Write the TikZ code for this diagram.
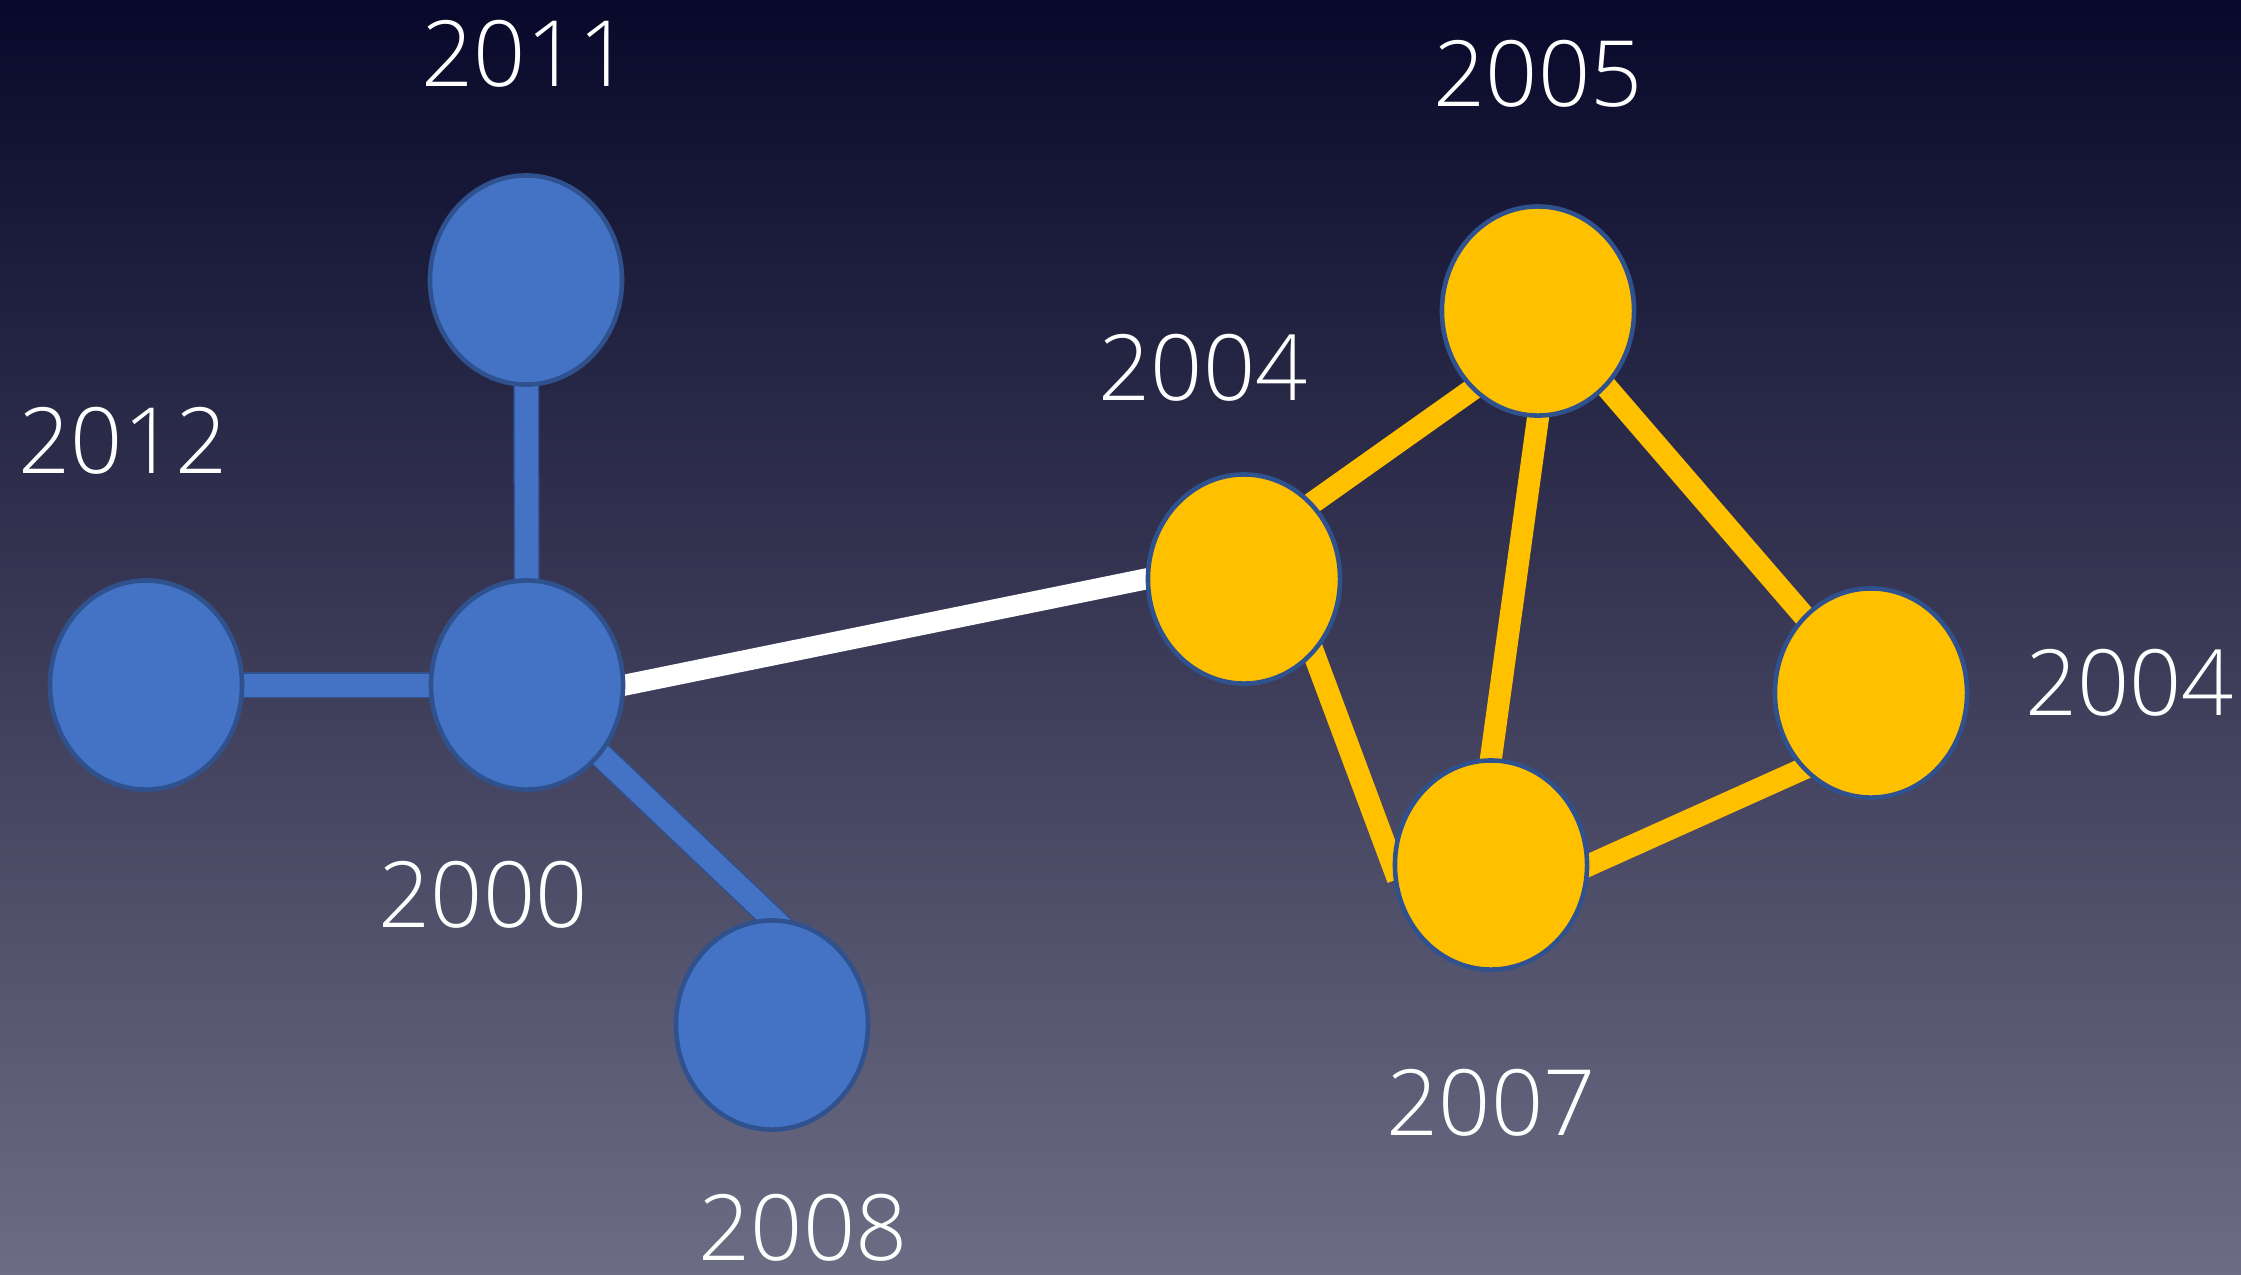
\documentclass[tikz,border=0pt]{standalone}
\usepackage{fontspec}
\setmainfont{Open Sans}[UprightFont=* Light]
\usetikzlibrary{shapes.geometric,positioning}

\definecolor{nightsky}{HTML}{08082A}
\definecolor{duskgrey}{HTML}{6C6C84}
\definecolor{nodeblue}{HTML}{4472C4}
\definecolor{nodegold}{HTML}{FFC000}
\definecolor{rimblue}{HTML}{2F528F}

\pgfdeclarelayer{backdrop}
\pgfdeclarelayer{edges}
\pgfsetlayers{backdrop,edges,main}

\begin{document}
\begin{tikzpicture}[
    x=0.01cm, y=-0.01cm,
    ball/.style={ellipse, draw=rimblue, line width=1.3pt, inner sep=0pt,
                 minimum width=1.92cm, minimum height=2.09cm},
    blueball/.style={ball, fill=nodeblue},
    goldball/.style={ball, fill=nodegold},
    year/.style={text=white, inner sep=0pt, font=\fontsize{26}{31}\selectfont},
    link/.style={line width=0.22cm, shorten <=-0.15cm, shorten >=-0.15cm},
    bluelink/.style={link, draw=nodeblue, line width=0.23cm,
                     preaction={draw=rimblue, line width=0.26cm}},
    goldlink/.style={link, draw=nodegold},
    bridge/.style={link, draw=white, line width=0.21cm},
  ]
    % ---- backdrop ----
    \begin{pgfonlayer}{backdrop}
      \shade[top color=nightsky, bottom color=duskgrey] (0,0) rectangle (2241,1275);
    \end{pgfonlayer}
    \useasboundingbox (0,0) rectangle (2241,1275);

    % ---- blue cluster ----
    \node[blueball] (b2011) at (526,280) {};
    \node[blueball] (b2012) at (146,685) {};
    \node[blueball] (b2000) at (527,685) {};
    \node[blueball] (b2008) at (772,1025) {};

    % ---- gold cluster ----
    \node[goldball] (g2004a) at (1244,579) {};
    \node[goldball] (g2005)  at (1538,311) {};
    \node[goldball] (g2004b) at (1871,693) {};
    \node[goldball] (g2007)  at (1491,865) {};

    % ---- year labels ----
    \node[year, above=0.85cm of b2011] (t2011) {2011};
    \node[year, above=1.03cm of b2012, xshift=-0.23cm] (t2012) {2012};
    \node[year, below=0.69cm of b2000, xshift=-0.44cm] (t2000) {2000};
    \node[year, below=0.62cm of b2008, xshift=0.31cm] (t2008) {2008};
    \node[year, above=0.70cm of g2004a, xshift=-0.41cm] (t2004a) {2004};
    \node[year, above=0.96cm of g2005] (t2005) {2005};
    \node[year, right=0.55cm of g2004b, yshift=0.1cm] (t2004b) {2004};
    \node[year, below=0.97cm of g2007] (t2007) {2007};

    % ---- links (behind the balls) ----
    \begin{pgfonlayer}{edges}
      \draw[bluelink] (b2000) -- (b2011);
      \draw[bluelink] (b2000) -- (b2012);
      \draw[bluelink] (b2000) -- (b2008.north);
      \draw[bridge] (b2000.east) -- (g2004a.west);
      \draw[goldlink] (g2004a.48) -- (g2005.230);
      \draw[goldlink] (g2004a.313) -- (g2007.west);
      \draw[goldlink] (g2005.south) -- (g2007.north);
      \draw[goldlink] (g2005.312) -- (g2004b.131);
      \draw[goldlink] (g2007.east) -- (g2004b.228);
    \end{pgfonlayer}
\end{tikzpicture}
\end{document}
